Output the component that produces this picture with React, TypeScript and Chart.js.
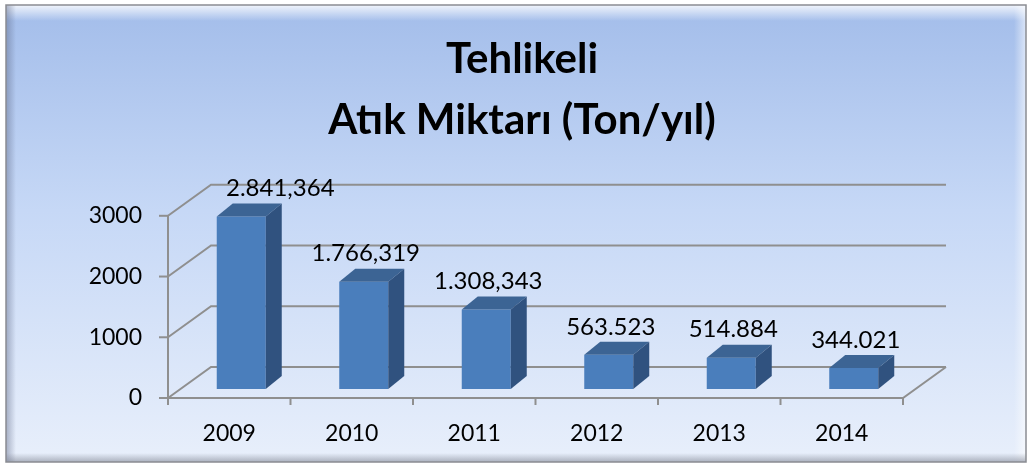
import React, { useEffect, useRef } from "react";
import { Chart, registerables } from "chart.js";

Chart.register(...registerables);

const categories = ["2009", "2010", "2011", "2012", "2013", "2014"];
const values = [2841.364, 1766.319, 1308.343, 563.523, 514.884, 344.021];
const valueLabels = ["2.841,364", "1.766,319", "1.308,343", "563.523", "514.884", "344.021"];
const yTicks = [0, 1000, 2000, 3000];
const titleLines = ["Tehlikeli", "Atık Miktarı (Ton/yıl)"];

const FRONT = { dx: -12, dy: 9 };
const BACK = { dx: 31, dy: -22 };
const DEPTH = { dx: 16, dy: -13 };
const GRID_COLOR = "#8f8f8f";
const FONT = "Lato";

const framePlugin = {
  id: "frame",
  beforeDraw(chart: any) {
    const ctx = chart.ctx;
    const W = chart.width;
    const H = chart.height;
    ctx.save();
    ctx.fillStyle = "#ffffff";
    ctx.fillRect(0, 0, W, H);
    const x0 = 6, y0 = 5, x1 = W - 5, y1 = H - 4;
    const g = ctx.createLinearGradient(0, y0, 0, y1);
    g.addColorStop(0, "#a3bdea");
    g.addColorStop(0.45, "#c6d8f6");
    g.addColorStop(1, "#e8effb");
    ctx.fillStyle = g;
    ctx.fillRect(x0, y0, x1 - x0, y1 - y0);
    const gt = ctx.createLinearGradient(0, y0, 0, y0 + 16);
    gt.addColorStop(0, "rgba(255,255,255,0.85)");
    gt.addColorStop(1, "rgba(255,255,255,0)");
    ctx.fillStyle = gt;
    ctx.fillRect(x0, y0, x1 - x0, 16);
    const gl = ctx.createLinearGradient(x0, 0, x0 + 10, 0);
    gl.addColorStop(0, "rgba(90,100,130,0.45)");
    gl.addColorStop(1, "rgba(90,100,130,0)");
    ctx.fillStyle = gl;
    ctx.fillRect(x0, y0, 10, y1 - y0);
    const gr = ctx.createLinearGradient(x1 - 12, 0, x1, 0);
    gr.addColorStop(0, "rgba(255,255,255,0)");
    gr.addColorStop(1, "rgba(255,255,255,0.6)");
    ctx.fillStyle = gr;
    ctx.fillRect(x1 - 12, y0, 12, y1 - y0);
    const gb = ctx.createLinearGradient(0, y1 - 9, 0, y1);
    gb.addColorStop(0, "rgba(120,125,140,0)");
    gb.addColorStop(1, "rgba(120,125,140,0.55)");
    ctx.fillStyle = gb;
    ctx.fillRect(x0, y1 - 9, x1 - x0, 9);
    ctx.strokeStyle = "#8a8c92";
    ctx.lineWidth = 1.5;
    ctx.strokeRect(x0, y0, x1 - x0, y1 - y0);
    ctx.restore();
  },
};

const gridPlugin = {
  id: "grid3d",
  beforeDatasetsDraw(chart: any) {
    const ctx = chart.ctx;
    const xs = chart.scales.x;
    const ys = chart.scales.y;
    const left = chart.chartArea.left;
    const right = chart.chartArea.right;
    const y0 = ys.getPixelForValue(0);
    ctx.save();
    ctx.strokeStyle = GRID_COLOR;
    ctx.lineWidth = 2;
    const line = (pts: number[][]) => {
      ctx.beginPath();
      ctx.moveTo(pts[0][0], pts[0][1]);
      for (let i = 1; i < pts.length; i++) ctx.lineTo(pts[i][0], pts[i][1]);
      ctx.stroke();
    };
    yTicks.forEach((v) => {
      const py = ys.getPixelForValue(v);
      const fx = left + FRONT.dx, fy = py + FRONT.dy;
      const bx = left + BACK.dx, by = py + BACK.dy;
      line([[fx, fy], [bx, by], [right + BACK.dx, by]]);
      line([[fx - 9, fy], [fx, fy]]);
    });
    const ff = y0 + FRONT.dy;
    line([[left + FRONT.dx, ff], [right + FRONT.dx, ff], [right + BACK.dx, y0 + BACK.dy]]);
    line([[left + FRONT.dx, ys.getPixelForValue(yTicks[yTicks.length - 1]) + FRONT.dy], [left + FRONT.dx, ff + 7]]);
    for (let i = 0; i <= categories.length; i++) {
      const px = xs.getPixelForValue(i - 0.5) + FRONT.dx;
      line([[px, ff], [px, ff + 7]]);
    }
    ctx.restore();
  },
  afterDatasetsDraw(chart: any) {
    const ctx = chart.ctx;
    const meta = chart.getDatasetMeta(0);
    ctx.save();
    meta.data.forEach((bar: any, i: number) => {
      const { x, y, base, width } = bar.getProps(["x", "y", "base", "width"], true);
      const l = x - width / 2;
      const r = x + width / 2;
      ctx.fillStyle = "#3c6494";
      ctx.beginPath();
      ctx.moveTo(l, y);
      ctx.lineTo(r, y);
      ctx.lineTo(r + DEPTH.dx, y + DEPTH.dy);
      ctx.lineTo(l + DEPTH.dx, y + DEPTH.dy);
      ctx.closePath();
      ctx.fill();
      ctx.fillStyle = "#30527f";
      ctx.beginPath();
      ctx.moveTo(r, y);
      ctx.lineTo(r + DEPTH.dx, y + DEPTH.dy);
      ctx.lineTo(r + DEPTH.dx, base + DEPTH.dy);
      ctx.lineTo(r, base);
      ctx.closePath();
      ctx.fill();
      ctx.font = `24px ${FONT}`;
      ctx.fillStyle = "#000";
      ctx.textAlign = "center";
      ctx.textBaseline = "middle";
      const txt = valueLabels[i];
      const w = ctx.measureText(txt).width;
      let cx = x + 2;
      const minLeft = chart.chartArea.left + BACK.dx + 15;
      if (cx - w / 2 < minLeft) cx = minLeft + w / 2;
      ctx.fillText(txt, cx, y - 28);
    });
    ctx.restore();
  },
};

export default function App() {
  const ref = useRef<HTMLCanvasElement | null>(null);
  useEffect(() => {
    document.body.style.margin = "0";
    const canvas = ref.current!;
    const chart = new Chart(canvas, {
      type: "bar",
      data: {
        labels: categories,
        datasets: [
          {
            data: values,
            backgroundColor: "#4a7ebc",
            borderWidth: 0,
            barPercentage: 0.4,
            categoryPercentage: 1,
          },
        ],
      },
      options: {
        responsive: false,
        animation: false,
        devicePixelRatio: 1,
        layout: { padding: { left: 13, right: 0, top: 0, bottom: 0 } },
        plugins: {
          legend: { display: false },
          tooltip: { enabled: false },
          title: {
            display: true,
            text: titleLines,
            color: "#000",
            font: { family: FONT, size: 42, weight: "bold", lineHeight: 1.45 },
            padding: { top: 29, bottom: 56 },
          },
        },
        scales: {
          x: {
            grid: { display: false, drawTicks: false },
            border: { display: false },
            ticks: {
              color: "#000",
              font: { family: FONT, size: 23 },
              padding: 31,
              labelOffset: FRONT.dx,
              maxRotation: 0,
            },
            afterFit: (s: any) => {
              s.height = 77;
            },
          },
          y: {
            min: 0,
            max: yTicks[yTicks.length - 1],
            afterBuildTicks: (s: any) => {
              s.ticks = yTicks.map((v) => ({ value: v }));
            },
            grid: { display: false, drawTicks: false },
            border: { display: false },
            ticks: {
              color: "#000",
              font: { family: FONT, size: 23 },
              padding: 38,
              labelOffset: FRONT.dy,
              callback: (v: any) => String(v),
            },
            afterFit: (s: any) => {
              s.width = 167;
            },
          },
          yR: {
            type: "linear",
            position: "right",
            grid: { display: false, drawTicks: false },
            border: { display: false },
            ticks: { display: false },
            afterFit: (s: any) => {
              s.width = 116;
            },
          },
        },
      },
      plugins: [framePlugin, gridPlugin],
    } as any);
    return () => chart.destroy();
  }, []);
  return <canvas ref={ref} width={1031} height={466} style={{ display: "block" }} />;
}
